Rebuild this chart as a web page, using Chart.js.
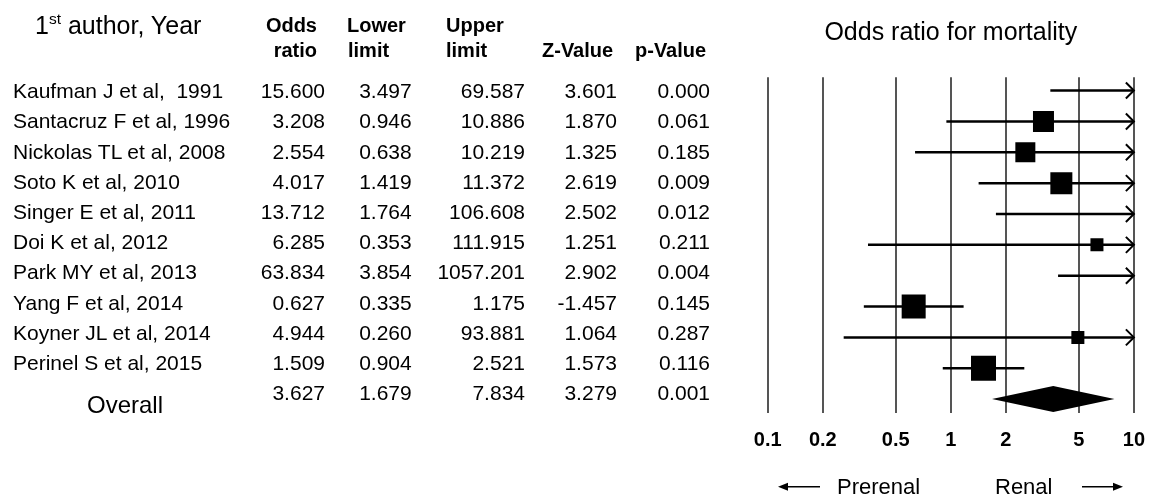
<!DOCTYPE html>
<html>
<head>
<meta charset="utf-8">
<title>Odds ratio for mortality</title>
<script src="https://cdn.jsdelivr.net/npm/chart.js@4.4.0/dist/chart.umd.min.js"></script>
<style>
    body { margin: 0; background: #fff; overflow: hidden; }
    #wrap { position: relative; width: 1149px; height: 497px; overflow: hidden;
            font-family: "Liberation Sans", Arial, sans-serif; color: #000; }
    #wrap canvas { position: absolute; left: 0; top: 0; }
    .t { position: absolute; line-height: 1; white-space: pre; }
    .num { text-align: right; width: 120px; font-size: 21px; }
    .hd { font-size: 20px; font-weight: bold; }
    sup { font-size: 0.62em; vertical-align: 0.62em; line-height: 0; }
</style>
</head>
<body>
<div id="wrap">
    <canvas id="forestChart" width="1160" height="497"></canvas>
</div>
<script>
// Study table data
const studies = [
    'Kaufman J et al,  1991',
    'Santacruz F et al, 1996',
    'Nickolas TL et al, 2008',
    'Soto K et al, 2010',
    'Singer E et al, 2011',
    'Doi K et al, 2012',
    'Park MY et al, 2013',
    'Yang F et al, 2014',
    'Koyner JL et al, 2014',
    'Perinel S et al, 2015'
];
const oddsRatio = [15.600, 3.208, 2.554, 4.017, 13.712, 6.285, 63.834, 0.627, 4.944, 1.509];
const lowerLimit = [3.497, 0.946, 0.638, 1.419, 1.764, 0.353, 3.854, 0.335, 0.260, 0.904];
const upperLimit = [69.587, 10.886, 10.219, 11.372, 106.608, 111.915, 1057.201, 1.175, 93.881, 2.521];
const zValue = [3.601, 1.870, 1.325, 2.619, 2.502, 1.251, 2.902, -1.457, 1.064, 1.573];
const pValue = [0.000, 0.061, 0.185, 0.009, 0.012, 0.211, 0.004, 0.145, 0.287, 0.116];

// Overall: odds ratio, lower, upper, z, p
const overallValues = [3.627, 1.679, 7.834, 3.279, 0.001];

const xTicks = [0.1, 0.2, 0.5, 1, 2, 5, 10];

// box side in px (study weight)
const boxSide = [0, 21, 20, 22, 0, 13, 0, 24, 13, 25];

const FONT = '"Liberation Sans", Arial, sans-serif';
const wrap = document.getElementById('wrap');

function addText(html, cls, left, top, extra) {
    const el = document.createElement('div');
    el.className = 't ' + cls;
    el.innerHTML = html;
    el.style.left = left + 'px';
    el.style.top = top + 'px';
    if (extra) Object.assign(el.style, extra);
    wrap.appendChild(el);
    return el;
}

// Header
addText('1<sup>st</sup> author, Year', '', 35, 12.5, { fontSize: '25px' });
addText('Odds', 'hd', 197, 15, { width: '120px', textAlign: 'right' });
addText('ratio', 'hd', 197, 39.5, { width: '120px', textAlign: 'right' });
addText('Lower', 'hd', 347, 15);
addText('limit', 'hd', 348, 39.5);
addText('Upper', 'hd', 446, 15);
addText('limit', 'hd', 446, 39.5);
addText('Z-Value', 'hd', 542, 39.5);
addText('p-Value', 'hd', 635, 39.5);

// Rows
const colRight = [325, 411.7, 525, 617, 710];
function rowTop(i) { return 90.5 + 30.2 * i - 10.3; }

studies.forEach((name, i) => {
    const top = rowTop(i);
    addText(name, '', 13, top, { fontSize: '21px' });
    const vals = [oddsRatio[i], lowerLimit[i], upperLimit[i], zValue[i], pValue[i]];
    vals.forEach((v, c) => addText(v.toFixed(3), 'num', colRight[c] - 120, top));
});

addText('Overall', '', 87, 392.7, { fontSize: '24px' });
overallValues.forEach((v, c) => addText(v.toFixed(3), 'num', colRight[c] - 120, rowTop(10)));

// Direction labels
addText('Prerenal', '', 837, 476, { fontSize: '22px' });
addText('Renal', '', 995, 476, { fontSize: '22px' });

// Confidence intervals, arrows and summary diamond
const forestPlugin = {
    id: 'forest',
    beforeDatasetsDraw(chart) {
        const { ctx, scales: { x, y } } = chart;
        const xMax = x.max;
        ctx.save();
        ctx.strokeStyle = '#000';
        ctx.fillStyle = '#000';
        ctx.lineWidth = 2.5;
        studies.forEach((s, i) => {
            const py = y.getPixelForValue(i);
            const x1 = x.getPixelForValue(Math.max(lowerLimit[i], x.min));
            const x2 = x.getPixelForValue(Math.min(upperLimit[i], xMax));
            ctx.beginPath();
            ctx.moveTo(x1, py);
            ctx.lineTo(x2, py);
            ctx.stroke();
            if (upperLimit[i] > xMax) {
                ctx.save();
                ctx.lineWidth = 2;
                ctx.beginPath();
                ctx.moveTo(x2 - 8, py - 8);
                ctx.lineTo(x2, py);
                ctx.lineTo(x2 - 8, py + 8);
                ctx.stroke();
                ctx.restore();
            }
        });

        // overall diamond
        const dy = y.getPixelForValue(10);
        const dl = x.getPixelForValue(overallValues[1]);
        const dc = x.getPixelForValue(overallValues[0]);
        const dr = x.getPixelForValue(overallValues[2]);
        ctx.beginPath();
        ctx.moveTo(dl, dy);
        ctx.lineTo(dc, dy - 13);
        ctx.lineTo(dr, dy);
        ctx.lineTo(dc, dy + 13);
        ctx.closePath();
        ctx.fill();
        ctx.restore();
    },
    afterDraw(chart) {
        const ctx = chart.ctx;
        const ay = 486.7;
        ctx.save();
        ctx.strokeStyle = '#000';
        ctx.fillStyle = '#000';
        ctx.lineWidth = 1.5;
        // left arrow
        ctx.beginPath();
        ctx.moveTo(820, ay);
        ctx.lineTo(786, ay);
        ctx.stroke();
        ctx.beginPath();
        ctx.moveTo(778, ay);
        ctx.lineTo(788, ay - 4);
        ctx.lineTo(788, ay + 4);
        ctx.closePath();
        ctx.fill();
        // right arrow
        ctx.beginPath();
        ctx.moveTo(1082, ay);
        ctx.lineTo(1115, ay);
        ctx.stroke();
        ctx.beginPath();
        ctx.moveTo(1123, ay);
        ctx.lineTo(1113, ay - 4);
        ctx.lineTo(1113, ay + 4);
        ctx.closePath();
        ctx.fill();
        ctx.restore();
    }
};

Chart.defaults.font.family = FONT;
Chart.defaults.color = '#000';

const ctx = document.getElementById('forestChart');
new Chart(ctx, {
    type: 'scatter',
    data: {
        datasets: [{
            data: oddsRatio.map((v, i) => ({ x: v, y: i })),
            pointStyle: 'rect',
            pointRadius: boxSide.map(s => s / Math.SQRT2),
            pointHoverRadius: boxSide.map(s => s / Math.SQRT2),
            backgroundColor: '#000',
            borderWidth: 0
        }]
    },
    options: {
        responsive: false,
        animation: false,
        events: [],
        layout: {
            padding: { left: 767.7, right: 26, top: 8.6, bottom: 30 }
        },
        plugins: {
            legend: { display: false },
            tooltip: { enabled: false },
            title: {
                display: true,
                text: 'Odds ratio for mortality',
                font: { size: 25, weight: 'normal' },
                padding: { top: 10, bottom: 28.7 }
            }
        },
        scales: {
            x: {
                type: 'logarithmic',
                min: 0.1,
                max: 10,
                afterBuildTicks: axis => {
                    axis.ticks = xTicks.map(v => ({ value: v }));
                },
                ticks: {
                    autoSkip: false,
                    maxRotation: 0,
                    padding: 15,
                    font: { size: 20, weight: 'bold' },
                    callback: v => String(v)
                },
                grid: { color: '#555', lineWidth: 2, drawTicks: false },
                border: { display: false }
            },
            y: {
                type: 'linear',
                reverse: true,
                min: -0.43,
                max: 10.45,
                display: false
            }
        }
    },
    plugins: [forestPlugin]
});
</script>
</body>
</html>
